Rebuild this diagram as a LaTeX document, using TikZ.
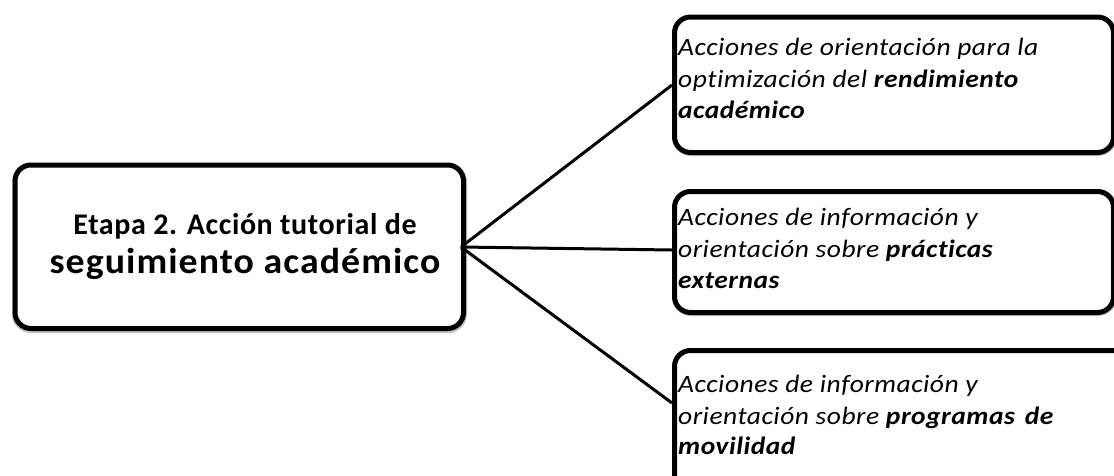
\documentclass[tikz,border=0pt]{standalone}
\usepackage{fontspec}
\setmainfont{Carlito}[Ligatures=NoCommon]
\begin{document}
\begin{tikzpicture}[x=1pt,y=-1pt,
  boxst/.style={draw=black, line width=5pt, rounded corners=16pt, fill=white},
  shadowst/.style={draw=black!25, line width=6pt, rounded corners=16pt},
  conn/.style={line width=3pt, draw=black},
  lt/.style={anchor=base west, inner sep=0pt, font=\fontsize{25}{25}\selectfont\itshape\addfontfeature{FakeStretch=1.1,LetterSpace=2}},
  ct/.style={anchor=base, inner sep=0pt}]
\useasboundingbox (0,0) rectangle (1114,475);
\begin{scope}
\clip (0,0) rectangle (1114,475);
% shadows
\draw[shadowst] (15,166) rectangle (464,330);
\draw[shadowst] (675,18) rectangle (1114,153);
\draw[shadowst] (675,192) rectangle (1114,313);
\draw[shadowst] (675,351) rectangle (1133,503);
% boxes
\node[boxst, minimum width=448.5pt, minimum height=163.5pt, anchor=north west] (main) at (12.5,162.5) {};
\node[boxst, minimum width=439pt, minimum height=135.5pt, anchor=north west] (b1) at (672,14.5) {};
\node[boxst, minimum width=439pt, minimum height=121pt, anchor=north west] (b2) at (672,189) {};
\node[boxst, minimum width=458pt, minimum height=152pt, anchor=north west] (b3) at (672,348) {};
% connectors
\coordinate (hub) at (461,247);
\draw[conn] (hub) -- (b1.west |- 0,85);
\draw[conn] (hub) -- (b2.west |- 0,250);
\draw[conn] (hub) -- (b3.west |- 0,403);
\end{scope}
% main text
\node[ct, font=\fontsize{30}{30}\selectfont\bfseries\addfontfeature{LetterSpace=2}] (m1) at (245,234) {Etapa 2. Acción tutorial de};
\node[ct, font=\fontsize{36}{36}\selectfont\bfseries\addfontfeature{FakeStretch=1.05,LetterSpace=3}] (m2) at (245,273) {seguimiento académico};
% box 1
\node[lt] (t11) at (678,55) {Acciones de orientación para la};
\node[lt] (t12) at (678,87) {optimización del \textbf{rendimiento}};
\node[lt] (t13) at (678,118) {\textbf{académico}};
% box 2
\node[lt] (t21) at (678,225) {Acciones de información y};
\node[lt] (t22) at (678,257) {orientación sobre \textbf{prácticas}};
\node[lt] (t23) at (678,288) {\textbf{externas}};
% box 3
\node[lt] (t31) at (678,392) {Acciones de información y};
\node[lt] (t32) at (678,424) {orientación sobre \textbf{programas\hspace{10pt}de}};
\node[lt] (t33) at (678,454) {\textbf{movilidad}};
\end{tikzpicture}
\end{document}
